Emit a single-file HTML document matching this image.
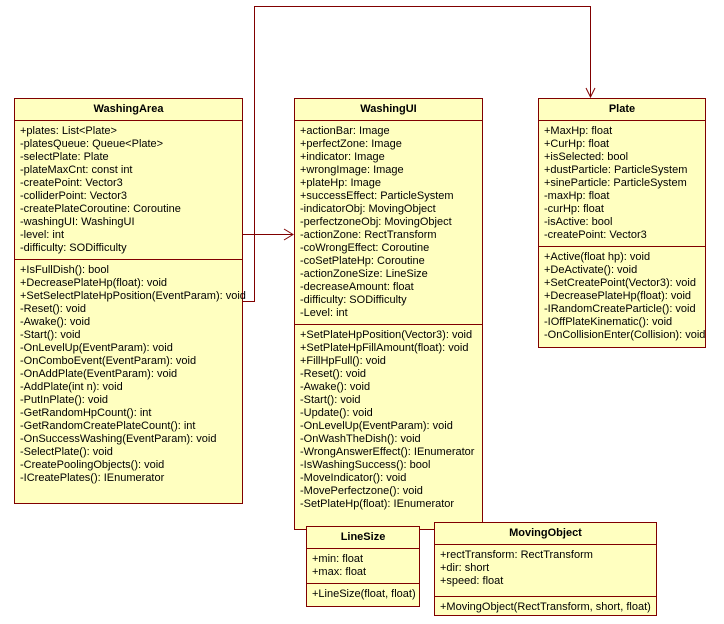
<!DOCTYPE html>
<html><head><style>
body{margin:0;width:724px;height:624px;background:#fff;position:relative;overflow:hidden;font-family:"Liberation Sans","DejaVu Sans",sans-serif;font-size:11px;color:#000}
.b{position:absolute;background:#ffffc0;border:1px solid #800000;box-sizing:border-box}
.t{height:22px;line-height:21px;text-align:center;font-weight:bold;border-bottom:1px solid #800000;box-sizing:border-box}
.s{border-bottom:1px solid #800000;padding:4px 0 0 5px;box-sizing:border-box;white-space:nowrap}
.s div{height:13px;line-height:13px}
.s.l{border-bottom:none}
</style></head><body>
<svg width="724" height="624" style="position:absolute;left:0;top:0">
<g stroke="#800000" fill="none" stroke-width="1">
<polyline points="242.5,234.5 293,234.5"/>
<polyline points="284,229 293,234.5 284,240"/>
<polyline points="242,301.5 254.5,301.5 254.5,6.5 590.5,6.5 590.5,97"/>
<polyline points="586,88 590.5,97 595,88"/>
</g></svg>

<div class="b" style="left:14px;top:98px;width:229px;height:406px">
<div class="t">WashingArea</div>
<div class="s" style="height:139px">
<div>+plates: List&lt;Plate&gt;</div><div>-platesQueue: Queue&lt;Plate&gt;</div><div>-selectPlate: Plate</div><div>-plateMaxCnt: const int</div><div>-createPoint: Vector3</div><div>-colliderPoint: Vector3</div><div>-createPlateCoroutine: Coroutine</div><div>-washingUI: WashingUI</div><div>-level: int</div><div>-difficulty: SODifficulty</div>
</div>
<div class="s l">
<div>+IsFullDish(): bool</div><div>+DecreasePlateHp(float): void</div><div>+SetSelectPlateHpPosition(EventParam): void</div><div>-Reset(): void</div><div>-Awake(): void</div><div>-Start(): void</div><div>-OnLevelUp(EventParam): void</div><div>-OnComboEvent(EventParam): void</div><div>-OnAddPlate(EventParam): void</div><div>-AddPlate(int n): void</div><div>-PutInPlate(): void</div><div>-GetRandomHpCount(): int</div><div>-GetRandomCreatePlateCount(): int</div><div>-OnSuccessWashing(EventParam): void</div><div>-SelectPlate(): void</div><div>-CreatePoolingObjects(): void</div><div>-ICreatePlates(): IEnumerator</div>
</div></div>

<div class="b" style="left:294px;top:98px;width:189px;height:432px">
<div class="t">WashingUI</div>
<div class="s" style="height:204px">
<div>+actionBar: Image</div><div>+perfectZone: Image</div><div>+indicator: Image</div><div>+wrongImage: Image</div><div>+plateHp: Image</div><div>+successEffect: ParticleSystem</div><div>-indicatorObj: MovingObject</div><div>-perfectzoneObj: MovingObject</div><div>-actionZone: RectTransform</div><div>-coWrongEffect: Coroutine</div><div>-coSetPlateHp: Coroutine</div><div>-actionZoneSize: LineSize</div><div>-decreaseAmount: float</div><div>-difficulty: SODifficulty</div><div>-Level: int</div>
</div>
<div class="s l">
<div>+SetPlateHpPosition(Vector3): void</div><div>+SetPlateHpFillAmount(float): void</div><div>+FillHpFull(): void</div><div>-Reset(): void</div><div>-Awake(): void</div><div>-Start(): void</div><div>-Update(): void</div><div>-OnLevelUp(EventParam): void</div><div>-OnWashTheDish(): void</div><div>-WrongAnswerEffect(): IEnumerator</div><div>-IsWashingSuccess(): bool</div><div>-MoveIndicator(): void</div><div>-MovePerfectzone(): void</div><div>-SetPlateHp(float): IEnumerator</div>
</div></div>

<div class="b" style="left:538px;top:98px;width:168px;height:250px">
<div class="t">Plate</div>
<div class="s" style="height:126px">
<div>+MaxHp: float</div><div>+CurHp: float</div><div>+isSelected: bool</div><div>+dustParticle: ParticleSystem</div><div>+sineParticle: ParticleSystem</div><div>-maxHp: float</div><div>-curHp: float</div><div>-isActive: bool</div><div>-createPoint: Vector3</div>
</div>
<div class="s l">
<div>+Active(float hp): void</div><div>+DeActivate(): void</div><div>+SetCreatePoint(Vector3): void</div><div>+DecreasePlateHp(float): void</div><div>-IRandomCreateParticle(): void</div><div>-IOffPlateKinematic(): void</div><div>-OnCollisionEnter(Collision): void</div>
</div></div>

<div class="b" style="left:306px;top:526px;width:114px;height:81px">
<div class="t">LineSize</div>
<div class="s" style="height:35px"><div>+min: float</div><div>+max: float</div></div>
<div class="s l"><div>+LineSize(float, float)</div></div>
</div>

<div class="b" style="left:434px;top:522px;width:223px;height:94px">
<div class="t">MovingObject</div>
<div class="s" style="height:52px"><div>+rectTransform: RectTransform</div><div>+dir: short</div><div>+speed: float</div></div>
<div class="s l"><div>+MovingObject(RectTransform, short, float)</div></div>
</div>
</body></html>
